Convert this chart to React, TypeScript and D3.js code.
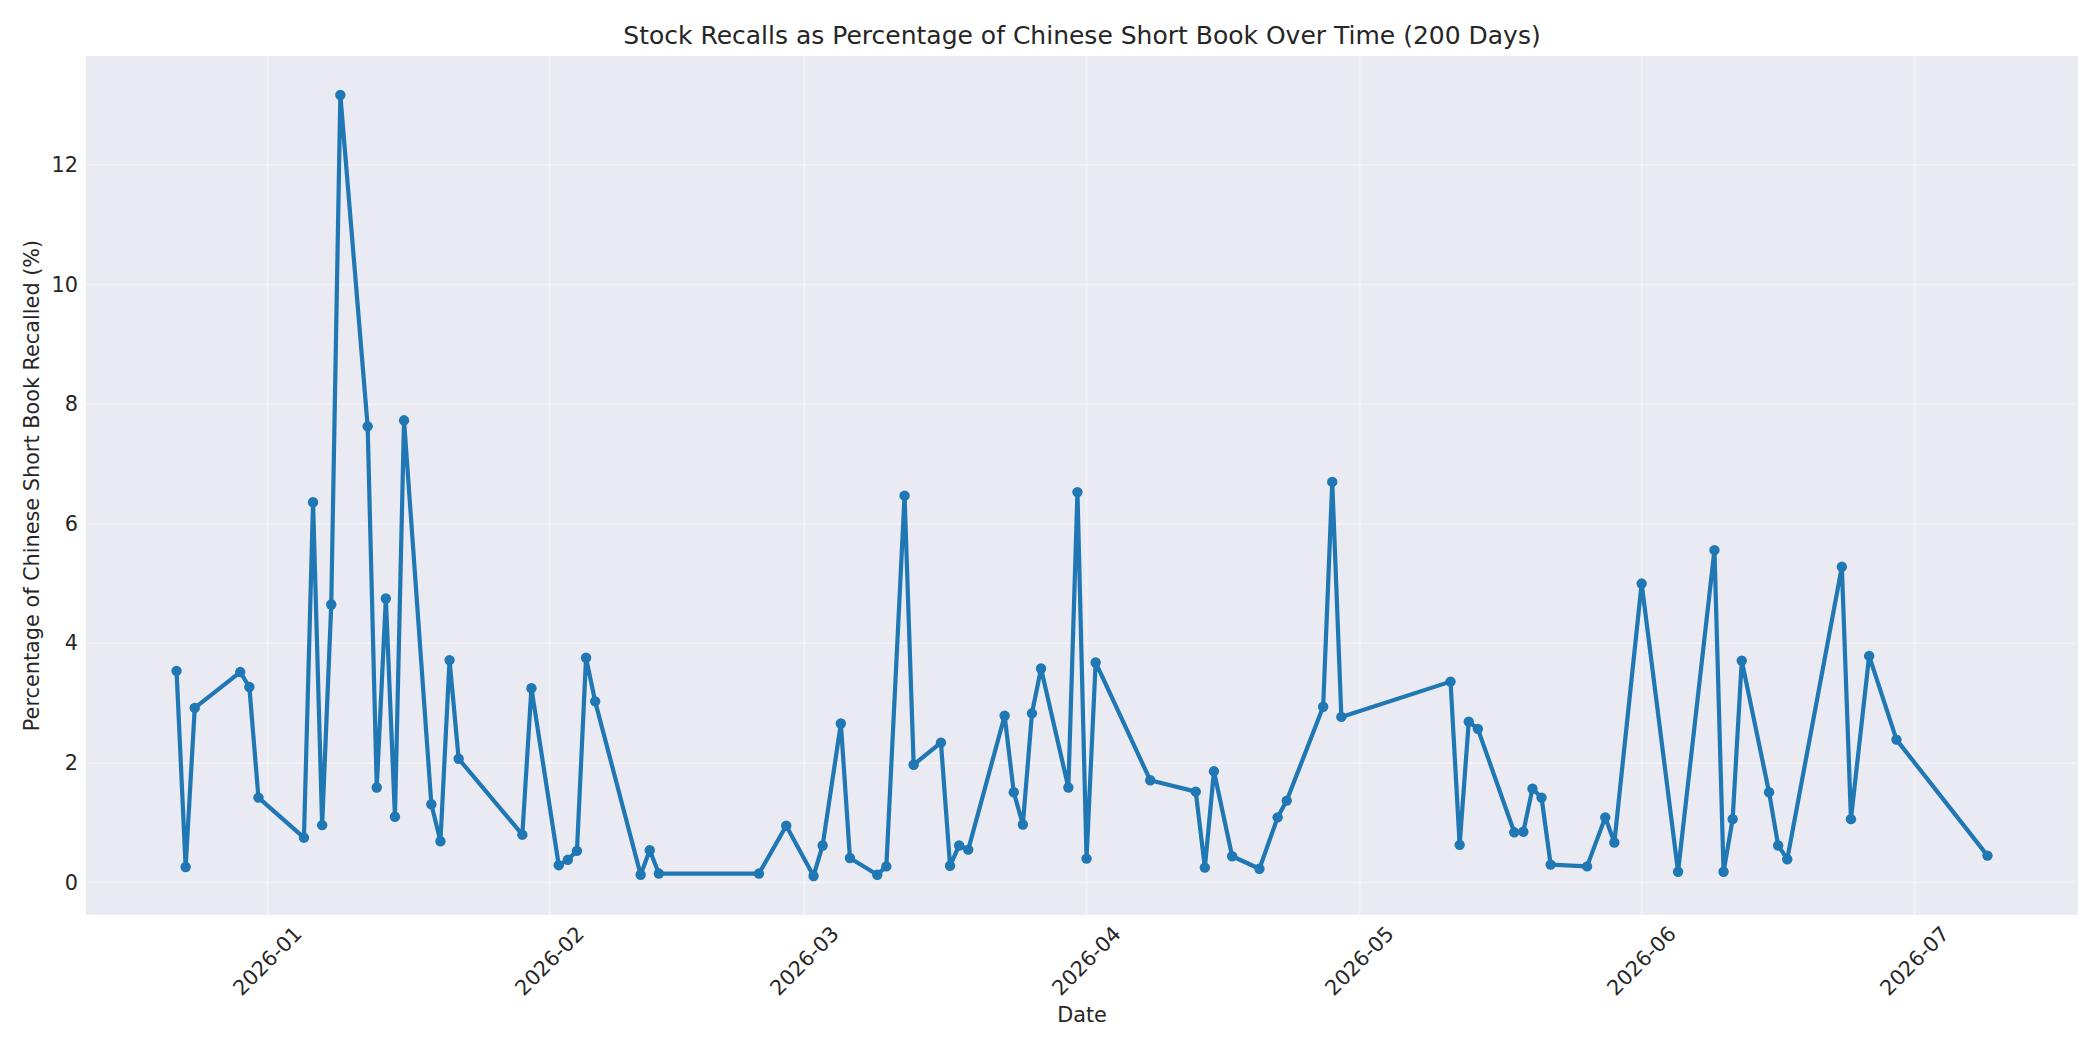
import React from "react";
import * as d3 from "d3";

// business days that had a recall, and recalled share of the short book (%)
const recallDates = [
  "2025-12-22", "2025-12-23", "2025-12-24", "2025-12-29", "2025-12-30", "2025-12-31",
  "2026-01-05", "2026-01-06", "2026-01-07", "2026-01-08", "2026-01-09", "2026-01-12",
  "2026-01-13", "2026-01-14", "2026-01-15", "2026-01-16", "2026-01-19", "2026-01-20",
  "2026-01-21", "2026-01-22", "2026-01-29", "2026-01-30", "2026-02-02", "2026-02-03",
  "2026-02-04", "2026-02-05", "2026-02-06", "2026-02-11", "2026-02-12", "2026-02-13",
  "2026-02-24", "2026-02-27", "2026-03-02", "2026-03-03", "2026-03-05", "2026-03-06",
  "2026-03-09", "2026-03-10", "2026-03-12", "2026-03-13", "2026-03-16", "2026-03-17",
  "2026-03-18", "2026-03-19", "2026-03-23", "2026-03-24", "2026-03-25", "2026-03-26",
  "2026-03-27", "2026-03-30", "2026-03-31", "2026-04-01", "2026-04-02", "2026-04-08",
  "2026-04-13", "2026-04-14", "2026-04-15", "2026-04-17", "2026-04-20", "2026-04-22",
  "2026-04-23", "2026-04-27", "2026-04-28", "2026-04-29", "2026-05-11", "2026-05-12",
  "2026-05-13", "2026-05-14", "2026-05-18", "2026-05-19", "2026-05-20", "2026-05-21",
  "2026-05-22", "2026-05-26", "2026-05-28", "2026-05-29", "2026-06-01", "2026-06-05",
  "2026-06-09", "2026-06-10", "2026-06-11", "2026-06-12", "2026-06-15", "2026-06-16",
  "2026-06-17", "2026-06-23", "2026-06-24", "2026-06-26", "2026-06-29", "2026-07-09",
];

const recallPct = [
  3.54, 0.26, 2.92, 3.52, 3.27, 1.42,
  0.75, 6.36, 0.96, 4.65, 13.17, 7.63,
  1.59, 4.75, 1.1, 7.73, 1.31, 0.69,
  3.72, 2.07, 0.8, 3.25, 0.29, 0.38,
  0.53, 3.76, 3.03, 0.13, 0.54, 0.15,
  0.15, 0.95, 0.11, 0.62, 2.66, 0.41,
  0.13, 0.27, 6.47, 1.97, 2.34, 0.28,
  0.62, 0.55, 2.79, 1.51, 0.97, 2.83,
  3.58, 1.59, 6.53, 0.4, 3.68, 1.71,
  1.52, 0.25, 1.86, 0.44, 0.23, 1.09,
  1.37, 2.94, 6.7, 2.77, 3.36, 0.63,
  2.69, 2.57, 0.84, 0.85, 1.57, 1.42,
  0.3, 0.27, 1.09, 0.67, 5.0, 0.18,
  5.56, 0.18, 1.06, 3.71, 1.51, 0.62,
  0.39, 5.28, 1.06, 3.79, 2.39, 0.45,
];

const xTickLabels = ["2026-01", "2026-02", "2026-03", "2026-04", "2026-05", "2026-06", "2026-07"];
const yTicks = [0, 2, 4, 6, 8, 10, 12];

const title = "Stock Recalls as Percentage of Chinese Short Book Over Time (200 Days)";

const width = 2100;
const height = 1050;
const margin = { top: 56, right: 22, bottom: 135, left: 86 };
const innerW = width - margin.left - margin.right;
const innerH = height - margin.top - margin.bottom;

const font = "'DejaVu Sans', sans-serif";
const ink = "#262626";
const blue = "#1f77b4";

// matplotlib style 5% padding around the data
const pad = ([lo, hi]: [number, number]) => {
  const m = (hi - lo) * 0.05;
  return [lo - m, hi + m];
};

export default function App() {
  const parse = d3.timeParse("%Y-%m-%d");
  const parseMonth = d3.timeParse("%Y-%m");
  const data = recallDates.map((d, i) => ({ date: parse(d) as Date, value: recallPct[i] }));

  const tExtent = d3.extent(data, (d) => +d.date) as [number, number];
  const [t0, t1] = pad(tExtent);
  const x = d3.scaleTime().domain([new Date(t0), new Date(t1)]).range([0, innerW]);

  const vExtent = d3.extent(data, (d) => d.value) as [number, number];
  const y = d3.scaleLinear().domain(pad(vExtent)).range([innerH, 0]);

  const line = d3
    .line<{ date: Date; value: number }>()
    .x((d) => x(d.date))
    .y((d) => y(d.value));

  const xTicks = xTickLabels.map((s) => ({ label: s, pos: x(parseMonth(s) as Date) }));

  return (
    <svg
      width={width}
      height={height}
      style={{ position: "absolute", left: 0, top: 0, background: "#ffffff" }}
      fontFamily={font}
    >
      <text x={margin.left + innerW / 2} y={35} textAnchor="middle" dominantBaseline="central" fontSize={25} fill={ink}>
        {title}
      </text>

      <g transform={`translate(${margin.left},${margin.top})`}>
        <rect width={innerW} height={innerH} fill="#eaeaf2" />

        {/* grid */}
        {yTicks.map((t) => (
          <line key={`gy${t}`} x1={0} x2={innerW} y1={y(t)} y2={y(t)} stroke="#ffffff" strokeOpacity={0.35} strokeWidth={2} />
        ))}
        {xTicks.map((t) => (
          <line key={`gx${t.label}`} x1={t.pos} x2={t.pos} y1={0} y2={innerH} stroke="#ffffff" strokeOpacity={0.35} strokeWidth={2} />
        ))}

        <path d={line(data) || ""} fill="none" stroke={blue} strokeWidth={4.2} strokeLinejoin="round" strokeLinecap="round" />
        {data.map((d, i) => (
          <circle key={i} cx={x(d.date)} cy={y(d.value)} r={5.2} fill={blue} />
        ))}

        {/* y tick labels */}
        {yTicks.map((t) => (
          <text key={`ty${t}`} x={-8} y={y(t)} textAnchor="end" dominantBaseline="central" fontSize={20.8} fill={ink}>
            {t}
          </text>
        ))}

        {/* x tick labels, rotated 45 degrees */}
        {xTicks.map((t) => (
          <text
            key={`tx${t.label}`}
            x={t.pos}
            y={innerH + 46}
            transform={`rotate(-45, ${t.pos}, ${innerH + 46})`}
            textAnchor="middle"
            dominantBaseline="central"
            fontSize={20.8}
            fill={ink}
          >
            {t.label}
          </text>
        ))}
      </g>

      <text x={margin.left + innerW / 2} y={1015} textAnchor="middle" dominantBaseline="central" fontSize={20.8} fill={ink}>
        Date
      </text>
      <text
        x={32}
        y={margin.top + innerH / 2}
        transform={`rotate(-90, 32, ${margin.top + innerH / 2})`}
        textAnchor="middle"
        dominantBaseline="central"
        fontSize={20.8}
        fill={ink}
      >
        Percentage of Chinese Short Book Recalled (%)
      </text>
    </svg>
  );
}
